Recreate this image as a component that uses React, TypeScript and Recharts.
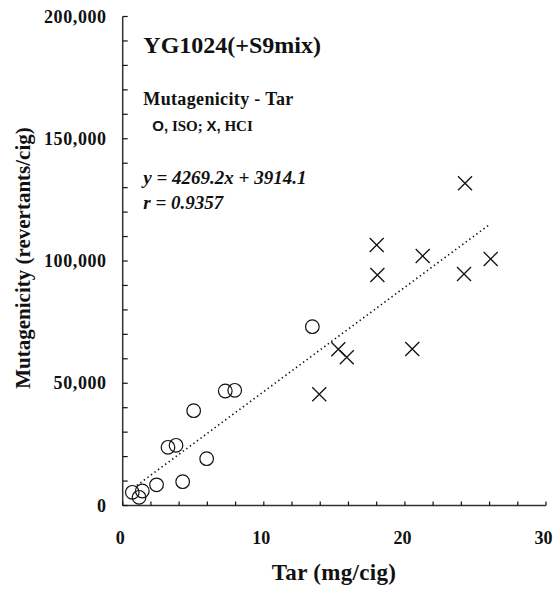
import { ScatterChart, Scatter, XAxis, YAxis, ReferenceLine } from "recharts";

// ISO smoking regime (open circles)
const isoTar = [0.68, 1.16, 1.39, 2.4, 3.21, 3.78, 4.25, 5.03, 5.95, 7.27, 7.94, 13.44];
const isoMut = [5400, 3350, 5930, 8450, 23800, 24620, 9730, 38770, 19140, 46830, 47120, 73120];

// HCI smoking regime (crosses)
const hciTar = [13.93, 15.28, 15.88, 18.0, 18.05, 20.52, 21.26, 24.19, 24.26, 26.08];
const hciMut = [45480, 63900, 60600, 106550, 94280, 63990, 102050, 94690, 131800, 100830];

// regression over both regimes
const slope = 4269.2;
const intercept = 3914.1;
const rValue = 0.9357;
const fitRange = [1.0, 25.9];

const xTicks = [0, 2, 4, 6, 8, 10, 12, 14, 16, 18, 20, 22, 24, 26, 28, 30];
const xLabels = [0, 10, 20, 30];
const yTicks = [
  0, 10000, 20000, 30000, 40000, 50000, 60000, 70000, 80000, 90000, 100000,
  110000, 120000, 130000, 140000, 150000, 160000, 170000, 180000, 190000, 200000,
];
const yLabels = [0, 50000, 100000, 150000, 200000];

const iso = isoTar.map((x, i) => ({ x, y: isoMut[i] }));
const hci = hciTar.map((x, i) => ({ x, y: hciMut[i] }));
const fitLine = fitRange.map((x) => ({ x, y: slope * x + intercept }));

const serif = "'Liberation Serif', 'Times New Roman', serif";
const sans = "'Liberation Sans', Arial, sans-serif";
const ink = "#111";

function XTick({ x, y, payload }: any) {
  const v = payload.value;
  return (
    <g>
      <line x1={x} x2={x} y1={y} y2={y - 4} stroke={ink} strokeWidth={1.2} />
      {xLabels.includes(v) && (
        <text x={x - 2.5} y={y + 38.5} textAnchor="middle" fontFamily={serif} fontWeight="bold" fontSize={18} fill={ink}>
          {v}
        </text>
      )}
    </g>
  );
}

function YTick({ x, y, payload }: any) {
  const v = payload.value;
  return (
    <g>
      <line x1={x} x2={x + 5} y1={y} y2={y} stroke={ink} strokeWidth={1.2} />
      {yLabels.includes(v) && (
        <text x={x - 16} y={y + 6} textAnchor="end" fontFamily={serif} fontWeight="bold" fontSize={18} letterSpacing={0.6} fill={ink}>
          {v.toLocaleString("en-US")}
        </text>
      )}
    </g>
  );
}

const Ring = ({ cx, cy }: any) => (
  <circle cx={cx} cy={cy} r={6.8} fill="none" stroke={ink} strokeWidth={1.2} />
);

const Cross = ({ cx, cy }: any) => (
  <path
    d={`M${cx - 7},${cy - 7}L${cx + 7},${cy + 7}M${cx - 7},${cy + 7}L${cx + 7},${cy - 7}`}
    stroke={ink}
    strokeWidth={1.3}
    fill="none"
  />
);

export default function App() {
  return (
    <div style={{ position: "absolute", left: 0, top: 0, width: 553, height: 592, background: "#fff" }}>
      <ScatterChart width={553} height={592} margin={{ top: 16.5, right: 7, bottom: 56.5, left: 62.7 }}>
        <XAxis
          type="number"
          dataKey="x"
          domain={[0, 30]}
          ticks={xTicks}
          interval={0}
          height={30}
          tickSize={0}
          tickMargin={0}
          tickLine={false}
          tick={<XTick />}
          axisLine={{ stroke: "#333", strokeWidth: 1.5 }}
        />
        <YAxis
          type="number"
          dataKey="y"
          domain={[0, 200000]}
          ticks={yTicks}
          interval={0}
          width={60}
          tickSize={0}
          tickMargin={0}
          tickLine={false}
          tick={<YTick />}
          axisLine={{ stroke: "#333", strokeWidth: 1.5 }}
        />
        <ReferenceLine
          segment={fitLine}
          stroke={ink}
          strokeWidth={1.6}
          strokeDasharray="1.4 3"
        />
        <Scatter data={iso} shape={<Ring />} isAnimationActive={false} />
        <Scatter data={hci} shape={<Cross />} isAnimationActive={false} />

        <text x={143.3} y={52.5} fontFamily={serif} fontWeight="bold" fontSize={24} fill={ink}>
          YG1024(+S9mix)
        </text>
        <text x={143.3} y={105} fontFamily={serif} fontWeight="bold" fontSize={18} letterSpacing={0.35} fill={ink}>
          Mutagenicity - Tar
        </text>
        <text x={152.3} y={131} fontWeight="bold" fontSize={15} fill={ink} fontFamily={serif}>
          <tspan fontFamily={sans}>O,</tspan>
          <tspan> ISO; </tspan>
          <tspan fontFamily={sans}>X,</tspan>
          <tspan> HCI</tspan>
        </text>
        <text x={143.3} y={184} fontFamily={serif} fontWeight="bold" fontStyle="italic" fontSize={19} fill={ink}>
          {`y = ${slope}x + ${intercept}`}
        </text>
        <text x={143.3} y={209} fontFamily={serif} fontWeight="bold" fontStyle="italic" fontSize={19} fill={ink}>
          {`r = ${rValue}`}
        </text>

        <text x={334} y={580} textAnchor="middle" fontFamily={serif} fontWeight="bold" fontSize={23} letterSpacing={0.3} fill={ink}>
          Tar (mg/cig)
        </text>
        <text
          x={0}
          y={0}
          transform="translate(30, 258) rotate(-90)"
          textAnchor="middle"
          fontFamily={serif}
          fontWeight="bold"
          fontSize={21}
          fill={ink}
        >
          Mutagenicity (revertants/cig)
        </text>
      </ScatterChart>
    </div>
  );
}
